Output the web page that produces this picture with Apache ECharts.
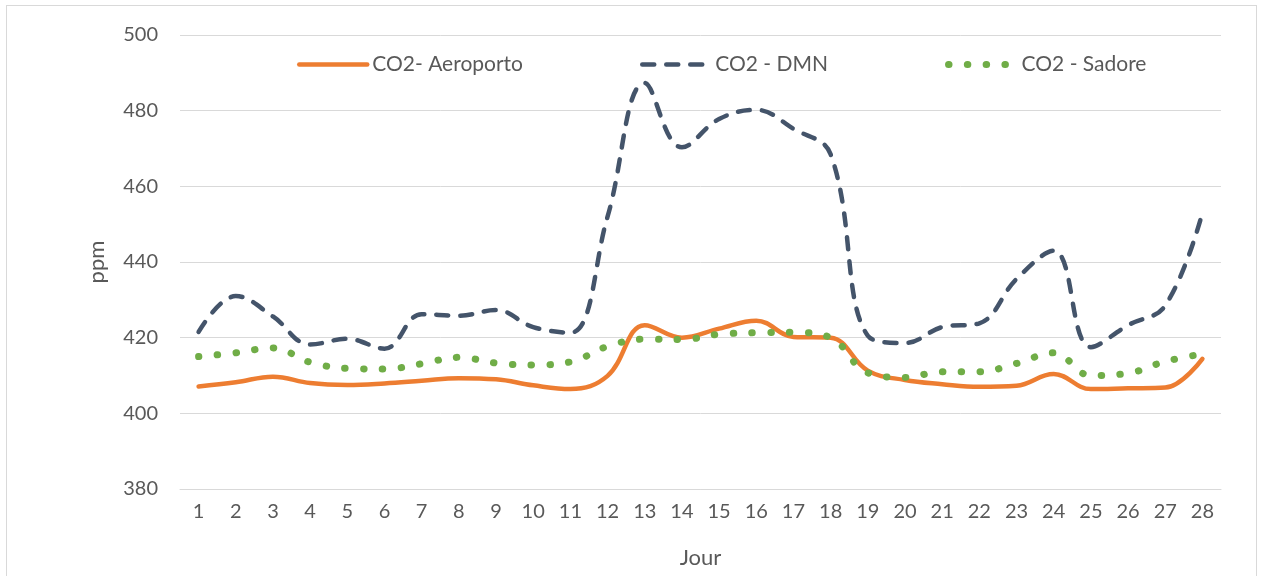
<!DOCTYPE html>
<html>
<head>
<meta charset="utf-8">
<script src="https://cdn.jsdelivr.net/npm/echarts@6/dist/echarts.min.js"></script>
<style>
  html, body { margin: 0; padding: 0; background: #fff; }
  #frame { position: absolute; left: 6px; top: 5px; width: 1249px; height: 620px; border: 1px solid #d9d9d9; pointer-events: none; }
  #chart { position: absolute; left: 0; top: 0; width: 1261px; height: 576px; }
</style>
</head>
<body>
<div id="chart"></div>
<div id="frame"></div>
<script>
// jours du mois
var days = ['1','2','3','4','5','6','7','8','9','10','11','12','13','14',
            '15','16','17','18','19','20','21','22','23','24','25','26','27','28'];
var yTicks = [380, 400, 420, 440, 460, 480, 500];

var aeroporto = [407.1, 408.2, 409.7, 408.0, 407.5, 407.9, 408.6, 409.3, 409.0, 407.4, 406.4, 409.9, 423.3, 420.0,
                 422.4, 424.5, 420.2, 420.0, 411.3, 408.8, 407.7, 407.0, 407.3, 410.4, 406.4, 406.6, 406.8, 414.4];
var dmn = [421.5, 431.0, 425.6, 418.2, 419.7, 417.1, 426.2, 425.8, 427.3, 422.8, 421.3, 452.0, 487.3, 470.3,
           477.8, 480.2, 475.2, 468.5, 420.5, 418.6, 422.8, 423.8, 435.5, 443.0, 417.5, 423.3, 428.5, 453.0];
var sadore = [415.0, 416.0, 417.3, 413.5, 411.9, 411.7, 413.1, 414.8, 413.3, 412.8, 413.6, 417.7, 419.6, 419.5,
              420.9, 421.3, 421.4, 420.0, 410.7, 409.5, 411.0, 411.0, 413.2, 416.0, 410.0, 410.6, 413.7, 415.7];

var txtColor = '#595959';
var fontFam = 'Lato, "Noto Sans", sans-serif';

var option = {
  animation: false,
  backgroundColor: '#fff',
  textStyle: { fontFamily: fontFam },
  legend: {
    top: 49,
    left: 292,
    itemWidth: 68,
    itemHeight: 14,
    itemGap: 117,
    textStyle: { color: txtColor, fontSize: 21, fontFamily: fontFam },
    itemStyle: { opacity: 0 },
    data: [
      { name: 'CO2- Aeroporto', lineStyle: { width: 4.5 } },
      { name: 'CO2 - DMN', lineStyle: { width: 4.5 } },
      { name: 'CO2 - Sadore', lineStyle: { width: 7 } }
    ]
  },
  grid: { top: 35, bottom: 87, left: 180, right: 40 },
  xAxis: {
    type: 'category',
    data: days,
    boundaryGap: true,
    name: 'Jour',
    nameLocation: 'middle',
    nameGap: 58,
    nameTextStyle: { color: txtColor, fontSize: 22 },
    axisTick: { show: false },
    axisLine: { show: true, lineStyle: { color: '#d9d9d9', width: 1 } },
    axisLabel: { color: txtColor, fontSize: 20, margin: 13 }
  },
  yAxis: {
    type: 'value',
    min: yTicks[0],
    max: yTicks[yTicks.length - 1],
    interval: 20,
    name: 'ppm',
    nameLocation: 'middle',
    nameGap: 72,
    nameTextStyle: { color: txtColor, fontSize: 22 },
    axisLine: { show: false },
    axisTick: { show: false },
    axisLabel: { color: txtColor, fontSize: 20, margin: 22 },
    splitLine: { lineStyle: { color: '#d9d9d9', width: 1 } }
  },
  series: [
    {
      name: 'CO2- Aeroporto',
      type: 'line',
      data: aeroporto,
      smooth: 0.4,
      symbol: 'none',
      color: '#ED7D31',
      lineStyle: { color: '#ED7D31', width: 4.5, cap: 'round', join: 'round' },
      z: 3
    },
    {
      name: 'CO2 - DMN',
      type: 'line',
      data: dmn,
      smooth: 0.4,
      symbol: 'none',
      color: '#44546A',
      lineStyle: { color: '#44546A', width: 4.5, type: [12, 12], cap: 'round', join: 'round' },
      z: 2
    },
    {
      name: 'CO2 - Sadore',
      type: 'line',
      data: sadore,
      smooth: 0.4,
      symbol: 'none',
      color: '#70AD47',
      lineStyle: { color: '#70AD47', width: 7, type: [0.5, 18.3], cap: 'round', join: 'round' },
      z: 4
    }
  ]
};

var chart = echarts.init(document.getElementById('chart'));
chart.setOption(option);
</script>
</body>
</html>
